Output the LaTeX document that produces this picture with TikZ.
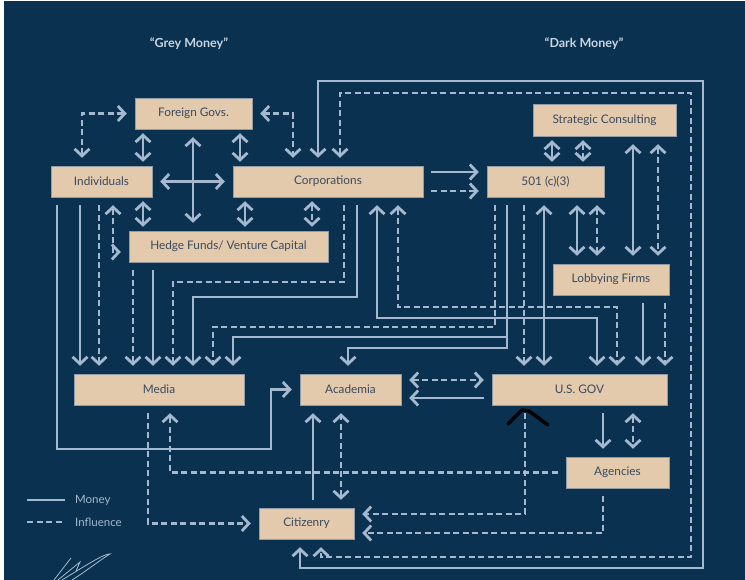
\documentclass[tikz,border=0pt]{standalone}
\usepackage{fontspec}
\setmainfont{Lato}
\usepackage{xcolor}
\usetikzlibrary{calc, positioning, arrows.meta}

\definecolor{Navy}{HTML}{0A3150}
\definecolor{Steel}{HTML}{A4B9CF}
\definecolor{Sand}{HTML}{E4CAAD}
\definecolor{Slate}{HTML}{3A4A5E}
\definecolor{Mist}{HTML}{C9D5E1}

\begin{document}
\begin{tikzpicture}[x=1pt, y=-1pt, >={Straight Barb[length=7pt,width=15pt]}]

\fill[white] (0,0) rectangle (745,580);
\fill[Navy] (4,1) rectangle (745,580);
\useasboundingbox (0,0) rectangle (745,580);

\tikzset{
  actor box/.style={
    fill=Sand, draw=Slate!55, line width=0.5pt,
    text=Slate, font=\fontsize{11.8}{13}\selectfont,
    minimum height=31pt, inner sep=0pt
  },
  money/.style={
    draw=Steel, line width=2.8pt,
    shorten <=8pt, shorten >=8pt
  },
  influence/.style={
    money, dash pattern=on 6pt off 3.5pt
  },
  close/.style={shorten <=4pt, shorten >=4pt},
  heading/.style={text=Mist, font=\bfseries\fontsize{12.5}{14}\selectfont},
  key text/.style={text=Steel, font=\fontsize{11.5}{13}\selectfont, anchor=west, inner sep=0pt}
}

\node[heading] (grey) at (189,44) {“Grey Money”};
\node[heading] (dark) at (584,44) {“Dark Money”};

\node[actor box, minimum width=117pt] (foreign) at (193.5,113.5) {Foreign Govs.};
\node[actor box, minimum width=101pt] (indiv) at (101.5,181.5) {Individuals};
\node[actor box, minimum width=190pt] (corp) at (328,181.5) {Corporations};
\node[actor box, minimum width=199pt] (hedge) at (228.5,246.5) {Hedge Funds/ Venture Capital};
\node[actor box, minimum width=143pt, minimum height=32pt] (strat) at (604.5,120) {Strategic Consulting};
\node[actor box, minimum width=117pt] (c501) at (545.5,181.5) {501 (c)(3)};
\node[actor box, minimum width=116pt] (lobby) at (611,279.5) {Lobbying Firms};
\node[actor box, minimum width=170pt] (media) at (159,389.5) {Media};
\node[actor box, minimum width=101pt] (acad) at (350.5,389.5) {Academia};
\node[actor box, minimum width=175pt] (gov) at (579.5,389.5) {U.S. GOV};
\node[actor box, minimum width=103pt] (agen) at (617.5,472.5) {Agencies};
\node[actor box, minimum width=95pt] (citiz) at (306.5,523.5) {Citizenry};

% grey money block
\draw[influence, <->] (82,0 |- indiv.north) -- (82,0 |- foreign.west) -- (foreign.west);
\draw[influence, <->] (foreign.east) -- (293,0 |- foreign.east) -- (293,0 |- corp.north);
\foreach \x in {143,240}
  \draw[money, close, <->] (\x,0 |- foreign.south) -- (\x,0 |- indiv.north);
\foreach \x in {143,245}
  \draw[money, close, <->] (\x,0 |- indiv.south) -- (\x,0 |- hedge.north);
\draw[influence, close, <->] (312,0 |- corp.south) -- (312,0 |- hedge.north);
\draw[money, <->] (193,0 |- foreign.south) -- (193,0 |- hedge.north);
\draw[money, <->] (indiv.east) -- (corp.west);
\draw[influence, <->] (113,0 |- indiv.south) -- (113,252) -- (hedge.west |- 0,252);

\draw[money, ->] (80,0 |- indiv.south) -- (80,0 |- media.north);
\draw[influence, ->] (99,0 |- indiv.south) -- (99,0 |- media.north);
\draw[influence, ->] (133,0 |- hedge.south) -- (133,0 |- media.north);
\draw[money, ->] (153,0 |- hedge.south) -- (153,0 |- media.north);
\draw[money, ->] (57,0 |- indiv.south) -- (57,449) -- (271,449) -- (271,0 |- acad.west) -- (acad.west);

\draw[influence, ->] (344,0 |- corp.south) -- (344,282) -- (173,282) -- (173,0 |- media.north);
\draw[money, ->] (357,0 |- corp.south) -- (357,297) -- (193,297) -- (193,0 |- media.north);
\draw[influence, ->] (495,0 |- c501.south) -- (495,327) -- (213,327) -- (213,0 |- media.north);
\draw[money, ->] (507,0 |- c501.south) -- (507,337) -- (233,337) -- (233,0 |- media.north);
\draw[money, ->] (507,0 |- c501.south) -- (507,348) -- (348,348) -- (348,0 |- acad.north);

\draw[money, <->] (377,0 |- corp.south) -- (377,318) -- (597,318) -- (597,0 |- gov.north);
\draw[influence, <->] (398,0 |- corp.south) -- (398,307) -- (617,307) -- (617,0 |- gov.north);

% dark money block
\draw[money, ->] (corp.east |- 0,172) -- (c501.west |- 0,172);
\draw[influence, ->] (corp.east |- 0,191) -- (c501.west |- 0,191);
\draw[influence, ->] (524,0 |- c501.south) -- (524,0 |- gov.north);
\draw[money, <->] (544,0 |- c501.south) -- (544,0 |- gov.north);
\draw[money, <->] (577,0 |- c501.south) -- (577,0 |- lobby.north);
\draw[influence, <->] (597,0 |- c501.south) -- (597,0 |- lobby.north);
\draw[money, close, <->] (552,0 |- strat.south) -- (552,0 |- c501.north);
\draw[influence, close, <->] (583,0 |- strat.south) -- (583,0 |- c501.north);
\draw[money, <->] (633,0 |- strat.south) -- (633,0 |- lobby.north);
\draw[influence, <->] (658,0 |- strat.south) -- (658,0 |- lobby.north);
\draw[money, ->] (643,0 |- lobby.south) -- (643,0 |- gov.north);
\draw[influence, ->] (665,0 |- lobby.south) -- (665,0 |- gov.north);

\draw[influence, <->] (acad.east |- 0,380) -- (gov.west |- 0,380);
\draw[money, ->] (gov.west |- 0,398) -- (acad.east |- 0,398);
\draw[money, ->] (603,0 |- gov.south) -- (603,0 |- agen.north);
\draw[influence, <->] (633,0 |- gov.south) -- (633,0 |- agen.north);

% bottom
\draw[influence, ->] (agen.west) -- (170,0 |- agen.west) -- (170,0 |- media.south);
\draw[influence, ->] (148,0 |- media.south) -- (148,0 |- citiz.west) -- (citiz.west);
\draw[money, ->] (313,0 |- citiz.north) -- (313,0 |- acad.south);
\draw[influence, <->] (341,0 |- citiz.north) -- (341,0 |- acad.south);
\draw[influence, ->] (525,0 |- gov.south) -- (525,514) -- (citiz.east |- 0,514);
\draw[influence, ->] (603,0 |- agen.south) -- (603,533) -- (citiz.east |- 0,533);

\draw[money, <->] (318,0 |- corp.north) -- (318,81) -- (703,81) -- (703,568) -- (300,568) -- (300,0 |- citiz.south);
\draw[influence, <->] (340,0 |- corp.north) -- (340,93) -- (691,93) -- (691,557) -- (321,557) -- (321,0 |- citiz.south);

% legend
\node[key text] (money key) at (75,500) {Money};
\node[key text] (influence key) at (75,522) {Influence};
\draw[money, shorten <=0pt, shorten >=10pt] (27,500) -- (money key.west);
\draw[influence, shorten <=0pt, shorten >=10pt] (27,522) -- (influence key.west);

% marks
\draw[black, line width=3.5pt, line cap=round, line join=round] (508,424) -- (522,410) -- (529,411) -- (548,425);
\draw[Steel, line width=0.8pt] (54,580) -- (71,558) (58,580) -- (80,562) -- (76,571)
  (62,580) .. controls (85,566) and (105,553) .. (110,554) .. controls (100,560) and (85,572) .. (72,580);

\end{tikzpicture}
\end{document}
